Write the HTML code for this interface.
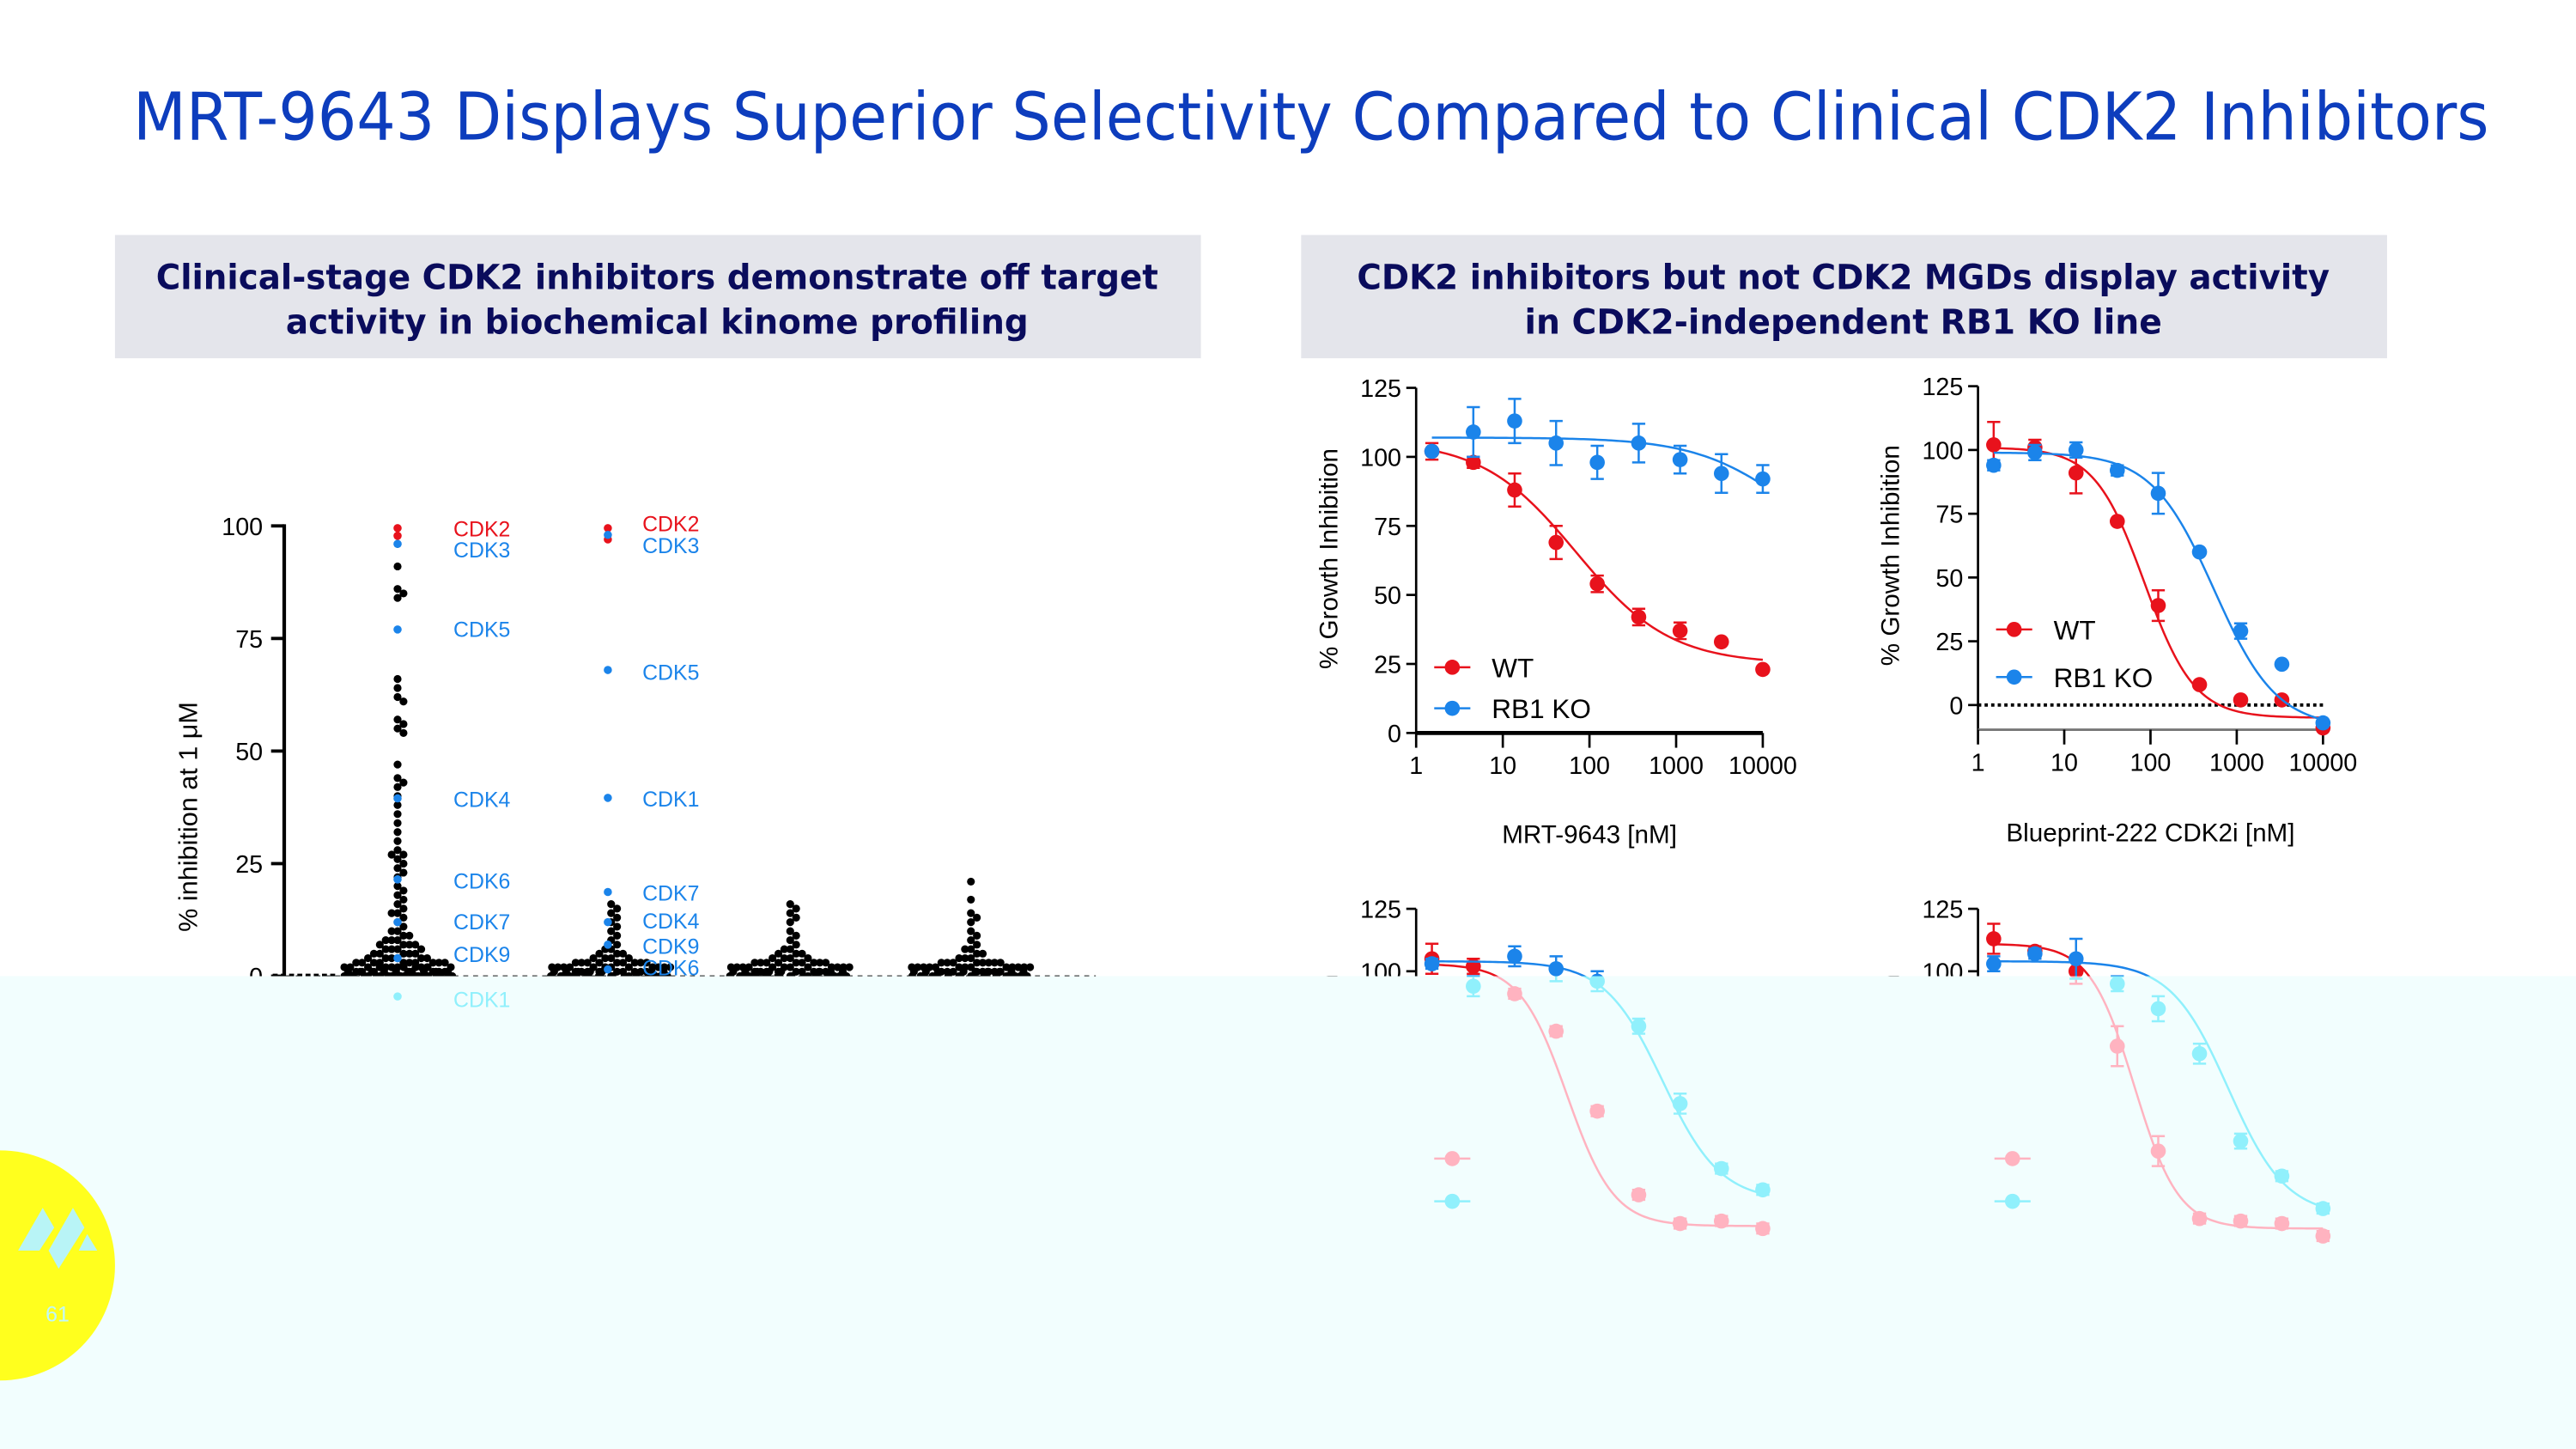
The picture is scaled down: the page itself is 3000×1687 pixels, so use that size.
<!DOCTYPE html>
<html><head><meta charset="utf-8">
<style>
html,body{margin:0;padding:0;background:#fff;}
svg{display:block;}
text{font-family:"Liberation Sans",sans-serif;}
.v{font-family:"DejaVu Sans","Liberation Sans",sans-serif;}
</style></head>
<body>
<svg id="root" width="3000" height="1687" viewBox="0 0 1568 881.7" preserveAspectRatio="none" xmlns="http://www.w3.org/2000/svg">
  <rect x="0" y="0" width="1568" height="882" fill="#ffffff"/>
  <text class="v" x="798" y="85" text-anchor="middle" font-size="40" fill="#0d3dbd" textLength="1434" lengthAdjust="spacingAndGlyphs">MRT-9643 Displays Superior Selectivity Compared to Clinical CDK2 Inhibitors</text>

  <rect x="70" y="143" width="661" height="75" fill="#e4e5eb"/>
  <text class="v" x="400" y="176" text-anchor="middle" font-size="21" font-weight="bold" fill="#0a0c5c" textLength="610" lengthAdjust="spacingAndGlyphs">Clinical-stage CDK2 inhibitors demonstrate off target</text>
  <text class="v" x="400" y="203" text-anchor="middle" font-size="21" font-weight="bold" fill="#0a0c5c" textLength="452" lengthAdjust="spacingAndGlyphs">activity in biochemical kinome profiling</text>

  <rect x="792" y="143" width="661" height="75" fill="#e4e5eb"/>
  <text class="v" x="1122" y="176" text-anchor="middle" font-size="21" font-weight="bold" fill="#0a0c5c" textLength="592" lengthAdjust="spacingAndGlyphs">CDK2 inhibitors but not CDK2 MGDs display activity</text>
  <text class="v" x="1122" y="203" text-anchor="middle" font-size="21" font-weight="bold" fill="#0a0c5c" textLength="388" lengthAdjust="spacingAndGlyphs">in CDK2-independent RB1 KO line</text>

  <g id="normal"></g>
  <rect x="0" y="594" width="1568" height="290" fill="#f2fefe"/>
  <g id="faded" clip-path="url(#fadeClip)"></g>
  <defs><clipPath id="fadeClip"><rect x="0" y="594" width="1568" height="290"/></clipPath></defs>

  <circle cx="0" cy="770" r="70" fill="#ffff1e"/>
  <g fill="#b8f4f6">
    <polygon points="11,761 26,735 33,747 24,761"/>
    <polygon points="29.6,761 44.4,735 51.4,747 35.7,772"/>
    <polygon points="47.9,761 53.1,751 59.2,761"/>
  </g>
  <text x="35" y="804" text-anchor="middle" font-size="13" fill="#c0f8fa" font-family="Liberation Serif,serif">61</text>
</svg>
<script>
// ---------- Left kinome chart data ----------
const kinomeColumns = ["compound-1","compound-2","compound-3","compound-4"];
const col1Values = [96,91,86,85,84,66,64,62,61,57,56,55,54,47,44,43,42,40,38,36,34,32,30,28,27,27,26,25,24,23,22,20,19,18,17,16,15,14,14,13,12,11,10,10,9,9,8,8,8,7,7,7,7,6,6,6,6,5,5,5,5,5,4,4,4,4,4,4,3,3,3,3,3,3,3,3,3,3,2,2,2,2,2,2,2,2,2,2,2,2,2,2,1,1,1,1,1,1,1,1,1,1,1,1,1,1,1,1,1,0,0,0,0,0,0,0,0,0,0,0,0,0,0,0,0,0,0,0,0,0,0,0,-1,-1,-2,-3];
const col2Values = [16,15,14,13,12,11,10,9,8,7,6,6,5,5,5,4,4,4,4,3,3,3,3,3,3,3,3,3,2,2,2,2,2,2,2,2,2,2,2,2,1,1,1,1,1,1,1,1,1,1,1,1,1,1,1,1,0,0,0,0,0,0,0,0,0,0,0,0,0,0,0,0,0,0,0,0];
const col3Values = [16,15,14,13,12,10,9,8,7,6,6,5,5,5,4,4,4,4,3,3,3,3,3,3,3,3,3,2,2,2,2,2,2,2,2,2,2,2,2,1,1,1,1,1,1,1,1,1,1,1,1,1,1,1,1,1,0,0,0,0,0,0,0,0,0,0,0,0,0,0,0,0,0,0,0,0,-1,-2];
const col4Values = [21,17,14,13,12,10,9,8,7,6,6,5,5,4,4,4,3,3,3,3,3,3,3,3,2,2,2,2,2,2,2,2,2,2,2,2,2,1,1,1,1,1,1,1,1,1,1,1,1,1,1,1,1,1,0,0,0,0,0,0,0,0,0,0,0,0,0,0,0,0,0,-1,-3];
const col1CdkNames = ["CDK2","CDK2","CDK3","CDK5","CDK4","CDK6","CDK7","CDK9","CDK1"];
const col1CdkValues = [99.5,97.8,96,77,39.5,21.5,12,4,-4.5];
const col1LabelNames = ["CDK2","CDK3","CDK5","CDK4","CDK6","CDK7","CDK9","CDK1"];
const col1LabelValues = [99.5,94.8,77.2,39.4,21.3,12.2,5,-5];
const col2CdkNames = ["CDK2","CDK2","CDK3","CDK5","CDK1","CDK7","CDK4","CDK9","CDK6"];
const col2CdkValues = [99.5,97,98,68,39.6,18.7,12,7,1.5];
const col2LabelNames = ["CDK2","CDK3","CDK5","CDK1","CDK7","CDK4","CDK9","CDK6"];
const col2LabelValues = [100.6,95.8,67.6,39.5,18.6,12.4,6.8,2];
const kinomeTicks = [0,25,50,75,100];

// ---------- Dose-response data (3-fold dilutions, nM) ----------
const concentrations = [1.52,4.57,13.7,41.2,123,370,1111,3333,10000];
const xTicks = [1,10,100,1000,10000];
const yTicks = [0,25,50,75,100,125];
const aWT = [102,98,88,69,54,42,37,33,23];
const aWTErr = [3,2,6,6,3,3,3,0,0];
const aKO = [102,109,113,105,98,105,99,94,92];
const aKOErr = [0,9,8,8,6,7,5,7,5];
const aWTFit = [106,25,70,0.8];
const aKOFit = [107,60,20000,0.8];
const bWT = [102,101,91,72,39,8,2,2,-9];
const bWTErr = [9,3,8,0,6,0,0,0,0];
const bKO = [94,99,100,92,83,60,29,16,-7];
const bKOErr = [2,3,3,2,8,0,3,0,0];
const bWTFit = [101,-5,85,1.5];
const bKOFit = [99,-9,550,1.2];
const cWT = [105,102,91,76,44,10.5,-1,0,-3];
const cWTErr = [6,3,2,2,2,2,2,2,2];
const cKO = [103,94,106,101,96,78,47,21,12.5];
const cKOErr = [2,4,4,5,4,3,4,2,2];
const cWTFit = [103,-2,55,1.6];
const cKOFit = [104,8,700,1.3];
const dWT = [113,108,100,70,28,1,0,-1,-6];
const dWTErr = [6,2,5,8,6,2,2,2,2];
const dKO = [103,107,105,95,85,67,32,18,5];
const dKOErr = [3,2,8,3,5,4,3,2,2];
const dWTFit = [111,-3,65,1.7];
const dKOFit = [104,2,800,1.3];

const NS = "http://www.w3.org/2000/svg";
function mk(parent, tag, attrs, txt){
  const e = document.createElementNS(NS, tag);
  for (const k in attrs) e.setAttribute(k, attrs[k]);
  if (txt !== undefined) e.textContent = txt;
  parent.appendChild(e);
  return e;
}
const RED="#e8121c", BLUE="#1b84ea", BLACK="#000000";
function colr(c, faded){
  if(!faded) return c;
  if(c===RED) return "#ffb3c0";
  if(c===BLUE) return "#90f0fc";
  return "none";
}

function drawKinome(g, faded){
  const y = v => 594 - v*2.74;
  const axisC = colr(BLACK,faded);
  let e = mk(g,"line",{x1:173,y1:y(100)-1,x2:173,y2:605,stroke:axisC,"stroke-width":2.2});
   
  kinomeTicks.forEach(t=>{
    let tl = mk(g,"line",{x1:165,y1:y(t),x2:173,y2:y(t),stroke:axisC,"stroke-width":2});
     
    let tx = mk(g,"text",{x:160,y:y(t)+5.5,"text-anchor":"end","font-size":15,fill:axisC},String(t));
     
  });
  let yl = mk(g,"text",{x:0,y:0,"font-size":16,fill:axisC,"text-anchor":"middle",transform:"translate(120,497) rotate(-90)"},"% inhibition at 1 \u03bcM");
   
  let zl = mk(g,"line",{x1:174,y1:y(0),x2:667,y2:y(0),stroke:axisC,"stroke-width":1,"stroke-dasharray":"3,3"});
   
  let zl2 = mk(g,"line",{x1:166,y1:y(0),x2:205,y2:y(0),stroke:axisC,"stroke-width":3,"stroke-dasharray":"3,2"});
   

  const centers = [242,372,481,591];
  const halfW = [34,37,37,37];
  const cols = [col1Values,col2Values,col3Values,col4Values];
  const r = 2.4;
  cols.forEach((vals,ci)=>{
    const placed=[];
    const sorted = vals.slice().sort((a,b)=>b-a);
    sorted.forEach((v,idx)=>{
      const py=y(v); let k=0, px;
      while(true){
        const off = (k===0?0:(k%2? 1:-1)*Math.ceil(k/2)*1.8);
        if(Math.abs(off)>halfW[ci]){ px = centers[ci] - halfW[ci] + ((idx*7.3) % (2*halfW[ci])); break; }
        px = centers[ci]+off;
        if(!placed.some(p=>Math.hypot(p[0]-px,p[1]-py)<3.5)) break;
        k++;
      }
      placed.push([px,py]);
      if(!faded){
        let c = mk(g,"circle",{cx:px,cy:py,r:r,fill:BLACK});
         
      }
    });
  });
  function cdk(names, vals, cx){
    names.forEach((n,i)=>{
      const c0 = n==="CDK2"?RED:BLUE;
      let c = mk(g,"circle",{cx:cx,cy:y(vals[i]),r:2.5,fill:colr(c0,faded)});
       
    });
  }
  function labels(names, vals, lx){
    names.forEach((n,i)=>{
      const c0 = n==="CDK2"?RED:BLUE;
      let t = mk(g,"text",{x:lx,y:y(vals[i])+5,"font-size":13,fill:colr(c0,faded)},n);
       
    });
  }
  cdk(col1CdkNames,col1CdkValues,centers[0]);
  cdk(col2CdkNames,col2CdkValues,370);
  labels(col1LabelNames,col1LabelValues,276);
  labels(col2LabelNames,col2LabelValues,391);
}

function fit4(p,x){ return p[1]+(p[0]-p[1])/(1+Math.pow(x/p[2],p[3])); }

function drawDose(g, faded, o){
  const xs = c => o.x0 + Math.log10(c)*(o.x1-o.x0)/4;
  const ys = v => o.y0 - v*o.unit;
  const ax = colr(BLACK,faded);
  let a = mk(g,"line",{x1:o.x0,y1:ys(125),x2:o.x0,y2:o.axisBottom,stroke:ax,"stroke-width":1.4});
   
  yTicks.forEach(t=>{
    if(ys(t)>o.axisBottom+1) return;
    let tl = mk(g,"line",{x1:o.x0-6,y1:ys(t),x2:o.x0,y2:ys(t),stroke:ax,"stroke-width":1.4});
     
    let tt = mk(g,"text",{x:o.x0-9,y:ys(t)+5.5,"text-anchor":"end","font-size":15,fill:ax},String(t));
     
  });
  let xa = mk(g,"line",{x1:o.x0,y1:o.xAxisY,x2:o.x1,y2:o.xAxisY,stroke:o.xAxisGray&&!faded?"#777":ax,"stroke-width":o.xAxisGray?1.5:2.5});
   
  xTicks.forEach(t=>{
    let tl = mk(g,"line",{x1:xs(t),y1:o.xAxisY,x2:xs(t),y2:o.xAxisY+9,stroke:ax,"stroke-width":1.4});
     
    let tt = mk(g,"text",{x:xs(t),y:o.xAxisY+25,"text-anchor":"middle","font-size":15,fill:ax},String(t));
     
  });
  let yt = mk(g,"text",{x:0,y:0,"font-size":15.5,fill:ax,"text-anchor":"middle",transform:"translate("+(o.x0-48)+","+o.yTitleY+") rotate(-90)"},"% Growth Inhibition");
   
  if(o.xTitle){
    let xt = mk(g,"text",{x:(o.x0+o.x1)/2,y:o.xTitleY,"text-anchor":"middle","font-size":15.5,fill:ax},o.xTitle);
     
  }
  if(o.zeroDotted){
    let z = mk(g,"line",{x1:o.x0,y1:ys(0),x2:o.x1,y2:ys(0),stroke:ax,"stroke-width":2,"stroke-dasharray":"2,2"});
     
  }
  function series(vals, errs, fitp, c0, key){
    const c = colr(c0,faded);
    let d="";
    for(let i=0;i<=120;i++){
      const lc = Math.log10(concentrations[0]) + i*(4-Math.log10(concentrations[0]))/120;
      const cx = Math.pow(10,lc);
      d += (i?"L":"M")+xs(cx).toFixed(2)+","+ys(fit4(fitp,cx)).toFixed(2);
    }
    let p = mk(g,"path",{d:d,fill:"none",stroke:c,"stroke-width":1.3});
     
    vals.forEach((v,i)=>{
      const px = xs(concentrations[i]), py = ys(v), e = errs[i]*o.unit;
      if(e>0){
        let eb = mk(g,"path",{d:"M"+px+","+(py-e)+"V"+(py+e)+"M"+(px-4)+","+(py-e)+"H"+(px+4)+"M"+(px-4)+","+(py+e)+"H"+(px+4),stroke:c,"stroke-width":1.3,fill:"none"});
         
      }
      let ci = mk(g,"circle",{cx:px,cy:py,r:4.6,fill:c});
       
    });
  }
  series(o.wt,o.wtErr,o.wtFit,RED,"wt");
  series(o.ko,o.koErr,o.koFit,BLUE,"rb1ko");
  [[RED,"WT",o.legY1],[BLUE,"RB1 KO",o.legY2]].forEach(([c0,lab,ly])=>{
    const c = colr(c0,faded);
    let l = mk(g,"line",{x1:o.legX-11,y1:ly,x2:o.legX+11,y2:ly,stroke:c,"stroke-width":1.3});
     
    let m = mk(g,"circle",{cx:o.legX,cy:ly,r:4.6,fill:c});
     
    let t = mk(g,"text",{x:o.legX+24,y:ly+6,"font-size":16.5,fill:colr(BLACK,faded)},lab);
     
  });
}

const charts = [
 {name:"chart-a",x0:862,x1:1073,y0:446,unit:1.68,axisBottom:446,xAxisY:446,yTitleY:340,xTitle:"MRT-9643 [nM]",xTitleY:513,
  wt:aWT,wtErr:aWTErr,wtFit:aWTFit,ko:aKO,koErr:aKOErr,koFit:aKOFit,legX:884,legY1:406,legY2:431},
 {name:"chart-b",x0:1204,x1:1414,y0:429,unit:1.552,axisBottom:444,xAxisY:444,xAxisGray:true,zeroDotted:true,yTitleY:338,xTitle:"Blueprint-222 CDK2i [nM]",xTitleY:512,
  wt:bWT,wtErr:bWTErr,wtFit:bWTFit,ko:bKO,koErr:bKOErr,koFit:bKOFit,legX:1226,legY1:383,legY2:412},
 {name:"chart-c",x0:862,x1:1073,y0:743,unit:1.52,axisBottom:757,xAxisY:757,yTitleY:660,xTitle:"",xTitleY:0,
  wt:cWT,wtErr:cWTErr,wtFit:cWTFit,ko:cKO,koErr:cKOErr,koFit:cKOFit,legX:884,legY1:705,legY2:731},
 {name:"chart-d",x0:1204,x1:1414,y0:743,unit:1.52,axisBottom:757,xAxisY:757,yTitleY:660,xTitle:"",xTitleY:0,
  wt:dWT,wtErr:dWTErr,wtFit:dWTFit,ko:dKO,koErr:dKOErr,koFit:dKOFit,legX:1225,legY1:705,legY2:731}
];

const gN = document.getElementById("normal");
const gF = document.getElementById("faded");
drawKinome(gN,false);
drawKinome(gF,true);
charts.forEach(o=>{ drawDose(gN,false,o); drawDose(gF,true,o); });
</script>
</body></html>
